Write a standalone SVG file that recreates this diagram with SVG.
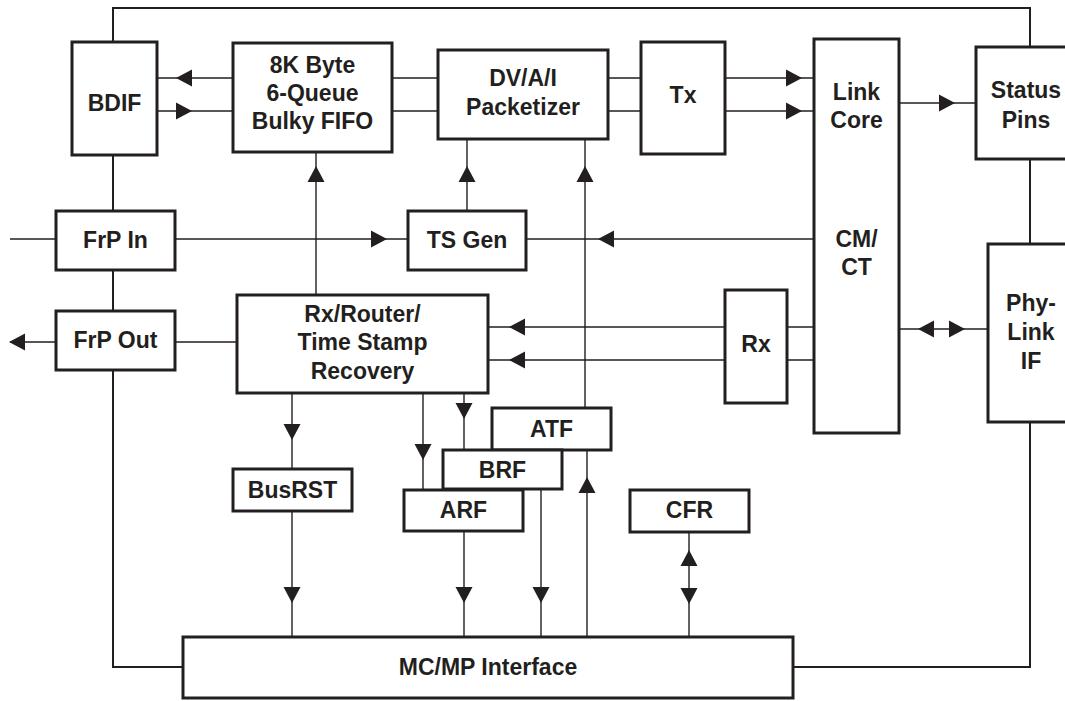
<svg xmlns="http://www.w3.org/2000/svg" xmlns:xlink="http://www.w3.org/1999/xlink" width="1065" height="701" viewBox="0 0 1065 701">
<style>
.box{fill:#fff;stroke:#231f20;stroke-width:3}
.frame{fill:none;stroke:#231f20;stroke-width:2}
.wire{fill:none;stroke:#231f20;stroke-width:1.4}
text{font-family:"Liberation Sans",Arial,sans-serif;font-weight:bold;font-size:23px;fill:#231f20;text-anchor:middle}
.ah{fill:#231f20}
</style>
<defs>
<polygon id="ah" class="ah" points="0,0 -16,-8.5 -16,8.5"/>
</defs>
<rect width="1065" height="701" fill="#fff"/>
<g id="connectors">
<path class="frame" d="M113,42V8H1030V47M1030,159V244M1030,422V667H793M113,155V211M113,270V311M113,370V667H183"/>
<path class="wire" d="M157,78H233M157,111H233M392,78H438M392,111H438M608,78H641M608,111H641M725,78H814M725,111H814M899,103H976M10,239H56M175,239H408M526,239H814M10,342H56M175,342H237M467,211V139M585,408V139M316,295V152M488,327H725M488,360H725M787,327H814M787,360H814M899,329H988M292,393V469M292,511V637M423,393V490M464,393V450M464,531V637M541,489V637M587,450V637M689,532V637"/>
<use xlink:href="#ah" transform="translate(176,78) rotate(180)"/>
<use xlink:href="#ah" transform="translate(192,111)"/>
<use xlink:href="#ah" transform="translate(802,78)"/>
<use xlink:href="#ah" transform="translate(802,111)"/>
<use xlink:href="#ah" transform="translate(955,103)"/>
<use xlink:href="#ah" transform="translate(387,239)"/>
<use xlink:href="#ah" transform="translate(598,239) rotate(180)"/>
<use xlink:href="#ah" transform="translate(9,342) rotate(180)"/>
<use xlink:href="#ah" transform="translate(467,166) rotate(-90)"/>
<use xlink:href="#ah" transform="translate(585,166) rotate(-90)"/>
<use xlink:href="#ah" transform="translate(316,166) rotate(-90)"/>
<use xlink:href="#ah" transform="translate(509,327) rotate(180)"/>
<use xlink:href="#ah" transform="translate(509,360) rotate(180)"/>
<use xlink:href="#ah" transform="translate(918,329) rotate(180)"/>
<use xlink:href="#ah" transform="translate(965,329)"/>
<use xlink:href="#ah" transform="translate(292,440) rotate(90)"/>
<use xlink:href="#ah" transform="translate(292,603) rotate(90)"/>
<use xlink:href="#ah" transform="translate(423,460) rotate(90)"/>
<use xlink:href="#ah" transform="translate(464,419) rotate(90)"/>
<use xlink:href="#ah" transform="translate(464,603) rotate(90)"/>
<use xlink:href="#ah" transform="translate(541,603) rotate(90)"/>
<use xlink:href="#ah" transform="translate(587,477) rotate(-90)"/>
<use xlink:href="#ah" transform="translate(689,550) rotate(-90)"/>
<use xlink:href="#ah" transform="translate(689,604) rotate(90)"/>
</g>
<g id="bdif"><rect class="box" x="72" y="42" width="85" height="113"/><text x="114.5" y="111">BDIF</text></g>
<g id="fifo"><rect class="box" x="233" y="43" width="159" height="109"/><text x="312.5" y="73">8K Byte</text><text x="312.5" y="101">6-Queue</text><text x="312.5" y="129">Bulky FIFO</text></g>
<g id="packetizer"><rect class="box" x="438" y="50" width="170" height="89"/><text x="523" y="86">DV/A/I</text><text x="523" y="115">Packetizer</text></g>
<g id="tx"><rect class="box" x="641" y="42" width="84" height="112"/><text x="683" y="103">Tx</text></g>
<g id="linkcore"><rect class="box" x="814" y="39" width="85" height="394"/><text x="856.5" y="100">Link</text><text x="856.5" y="128">Core</text><text x="856.5" y="247">CM/</text><text x="856.5" y="275">CT</text></g>
<g id="statuspins"><rect class="box" x="976" y="47" width="100" height="112"/><text x="1026" y="98">Status</text><text x="1026" y="128">Pins</text></g>
<g id="phylink"><rect class="box" x="988" y="244" width="90" height="178"/><text x="1031" y="311">Phy-</text><text x="1031" y="340">Link</text><text x="1031" y="369">IF</text></g>
<g id="frpin"><rect class="box" x="56" y="211" width="119" height="59"/><text x="115.5" y="248">FrP In</text></g>
<g id="tsgen"><rect class="box" x="408" y="211" width="118" height="59"/><text x="467" y="248">TS Gen</text></g>
<g id="frpout"><rect class="box" x="56" y="311" width="119" height="59"/><text x="115.5" y="348">FrP Out</text></g>
<g id="rxrouter"><rect class="box" x="237" y="295" width="251" height="98"/><text x="362.5" y="322">Rx/Router/</text><text x="362.5" y="350">Time Stamp</text><text x="362.5" y="379">Recovery</text></g>
<g id="rx"><rect class="box" x="725" y="290" width="62" height="113"/><text x="756" y="352">Rx</text></g>
<g id="atf"><rect class="box" x="492" y="408" width="119" height="42"/><text x="551.5" y="437">ATF</text></g>
<g id="brf"><rect class="box" x="443" y="450" width="119" height="39"/><text x="502.5" y="478">BRF</text></g>
<g id="arf"><rect class="box" x="404" y="490" width="119" height="41"/><text x="463.5" y="518">ARF</text></g>
<g id="busrst"><rect class="box" x="233" y="469" width="119" height="42"/><text x="292.5" y="498">BusRST</text></g>
<g id="cfr"><rect class="box" x="630" y="490" width="119" height="42"/><text x="689.5" y="518">CFR</text></g>
<g id="mcmp"><rect class="box" x="183" y="637" width="610" height="61"/><text x="488" y="675">MC/MP Interface</text></g>
</svg>
